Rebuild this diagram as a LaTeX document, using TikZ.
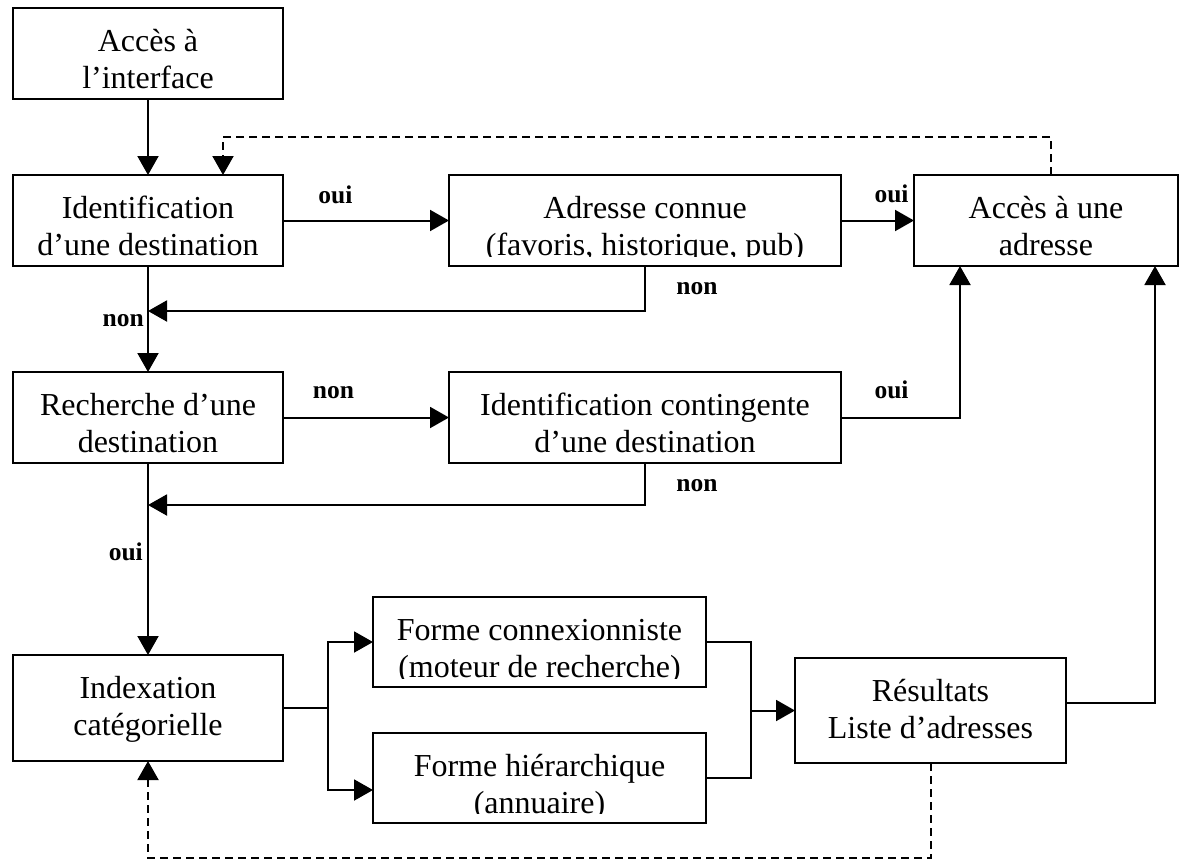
\documentclass[tikz,border=0pt]{standalone}
\usepackage{fontspec}
\setmainfont{Liberation Serif}
\usetikzlibrary{arrows.meta}
\begin{document}
\begin{tikzpicture}[x=1pt,y=-1pt,
  box/.style={draw, line width=2pt, inner sep=0pt, outer sep=0pt},
  txt/.style={anchor=north, inner sep=0pt, align=center, font=\fontsize{32}{37}\selectfont},
  lbl/.style={anchor=base, inner sep=0pt, font=\fontsize{25.5}{30}\selectfont\bfseries},
  conn/.style={line width=2pt},
  arr/.style={conn, -{Triangle[length=19pt,width=21pt]}},
  darr/.style={arr, dash pattern=on 8pt off 5pt},
]
\useasboundingbox (0,0) rectangle (1181,860);

% boxes
\node[box, minimum width=270pt, minimum height=91pt] (A) at (148,53.5) {};
\node[box, minimum width=270pt, minimum height=91pt] (B) at (148,220.5) {};
\node[box, minimum width=270pt, minimum height=91pt] (R) at (148,417.5) {};
\node[box, minimum width=270pt, minimum height=106pt] (I) at (148,708) {};
\node[box, minimum width=392pt, minimum height=91pt] (AC) at (645,220.5) {};
\node[box, minimum width=392pt, minimum height=91pt] (IC) at (645,417.5) {};
\node[box, minimum width=264pt, minimum height=91pt] (AA) at (1046,220.5) {};
\node[box, minimum width=333pt, minimum height=90pt] (FC) at (539.5,642) {};
\node[box, minimum width=333pt, minimum height=90pt] (FH) at (539.5,778) {};
\node[box, minimum width=271pt, minimum height=105pt] (RS) at (930.5,710.5) {};

% texts
\node[txt] (tA) at ([yshift=-17pt]A.north) {\strut Accès à\\\strut l’interface};
\node[txt] (tB) at ([yshift=-17pt]B.north) {\strut Identification\\\strut d’une destination};
\node[txt] (tR) at ([yshift=-17pt]R.north) {\strut Recherche d’une\\\strut destination};
\node[txt] (tI) at ([yshift=-17pt]I.north) {\strut Indexation\\\strut catégorielle};
\node[txt] (tIC) at ([yshift=-17pt]IC.north) {\strut Identification contingente\\\strut d’une destination};
\node[txt] (tAA) at ([yshift=-17pt]AA.north) {\strut Accès à une\\\strut adresse};
\node[txt] (tRS) at ([yshift=-17pt]RS.north) {\strut Résultats\\\strut Liste d’adresses};
\begin{scope}
  \clip (449,175) rectangle (841,256);
  \node[txt] (tAC) at ([yshift=-17pt]AC.north) {\strut Adresse connue\\\strut (favoris, historique, pub)};
\end{scope}
\begin{scope}
  \clip (373,597) rectangle (706,678);
  \node[txt] (tFC) at ([yshift=-17pt]FC.north) {\strut Forme connexionniste\\\strut (moteur de recherche)};
\end{scope}
\begin{scope}
  \clip (373,733) rectangle (706,813);
  \node[txt] (tFH) at ([yshift=-17pt]FH.north) {\strut Forme hiérarchique\\\strut (annuaire)};
\end{scope}

% junction coordinates
\coordinate (j1) at (148,311);
\coordinate (j2) at (148,505);
\coordinate (br) at (328,708);
\coordinate (mg) at (751,710.5);

% connectors
\draw[arr] (A.south) -- (B.north);
\draw[darr] ([xshift=5pt]AA.north) -- ++(0,-38) -| ([xshift=75pt]B.north);
\draw[arr] (B.east) -- (AC.west);
\draw[arr] (AC.east) -- (AA.west);
\draw[arr] (AC.south) |- (j1);
\draw[arr] (B.south) -- (R.north);
\draw[arr] (R.east) -- (IC.west);
\draw[arr] (IC.east) -| ([xshift=-86pt]AA.south);
\draw[arr] (IC.south) |- (j2);
\draw[arr] (R.south) -- (I.north);
\draw[conn] (I.east) -- (br);
\draw[arr] (br) |- (FC.west);
\draw[arr] (br) |- ([yshift=-12pt]FH.west);
\draw[conn] (FC.east) -| (mg);
\draw[conn] (FH.east) -| (mg);
\draw[arr] (mg) -- (RS.west);
\draw[arr] ([yshift=8pt]RS.east) -| ([xshift=109pt]AA.south);
\draw[darr] (RS.south) -- ++(0,95) -| (I.south);

% labels
\node[lbl] (l1) at (335.5,203) {oui};
\node[lbl] (l2) at (891.5,202) {oui};
\node[lbl] (l3) at (697,294) {non};
\node[lbl, anchor=base east] (l4) at (144,326) {non};
\node[lbl] (l5) at (333.5,398) {non};
\node[lbl] (l6) at (891.5,398) {oui};
\node[lbl] (l7) at (697,491) {non};
\node[lbl, anchor=base east] (l8) at (143,560) {oui};
\end{tikzpicture}
\end{document}
